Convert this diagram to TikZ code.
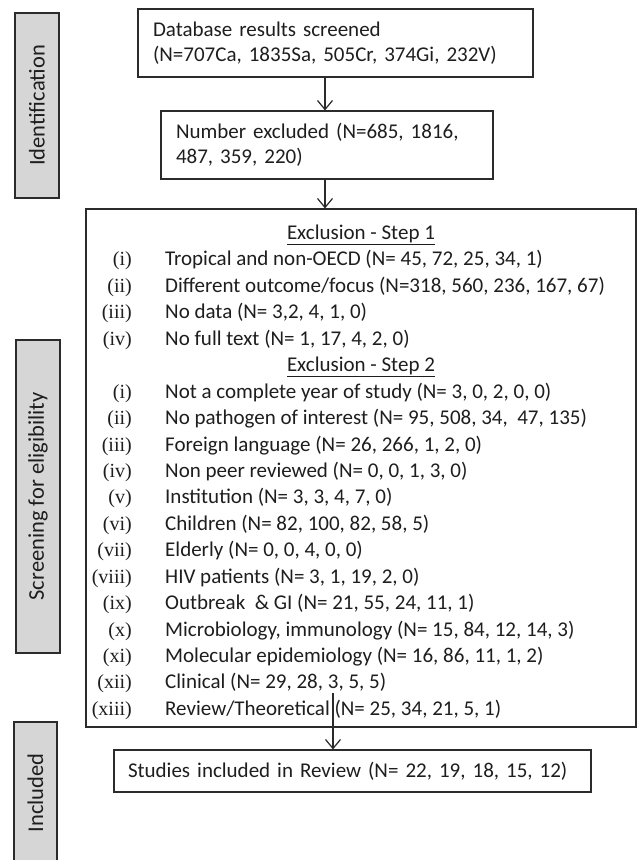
\documentclass[tikz,border=0pt]{standalone}
\usepackage{fontspec}
\setmainfont{Carlito}
\newfontfamily\romfont{Liberation Serif}
\usetikzlibrary{arrows.meta}
\definecolor{edge}{HTML}{2B2B2B}
\definecolor{sidefill}{HTML}{D6D6D6}
\definecolor{ink}{HTML}{1E1E1E}
\tikzset{
  mainbox/.style={draw=edge, line width=1.2pt, inner sep=0pt, text=ink},
  sidebox/.style={draw=edge, fill=sidefill, line width=1.4pt, inner sep=0pt, rotate=90, text=ink,
                  font=\fontsize{22.5}{26}\selectfont},
  romanlbl/.style={anchor=base east, inner sep=0pt, text=ink, font=\romfont\fontsize{20}{24}\selectfont},
  itemtxt/.style={anchor=base west, inner sep=0pt, text=ink, font=\fontsize{21}{25}\selectfont},
  headtxt/.style={anchor=base, inner sep=0pt, text=ink, font=\fontsize{21}{25}\selectfont},
  flow/.style={draw=edge, line width=1.2pt, -{Straight Barb[length=9pt,width=15pt,line width=1.2pt]}},
}
\newcommand\exline[3]{%
  \node[romanlbl] (r#1) at (132,{-(239.5+26.44*#1)}) {(#2)};
  \node[itemtxt] (t#1) at (165,{-(239.5+26.44*#1)}) {#3};}
\newcommand\exhead[2]{%
  \node[headtxt] (h#1) at (361,{-(239.5+26.44*#1)}) {\underline{#2}};}
\begin{document}
\begin{tikzpicture}[x=1pt,y=1pt]
\useasboundingbox (0,0) rectangle (637,-860);
\fill[white] (0,0) rectangle (637,-860);
% side labels
\node[sidebox, minimum width=185pt, minimum height=44pt] (ident) at (37,-105.5) {Identification};
\node[sidebox, minimum width=313pt, minimum height=44pt] (screen) at (38,-496.5) {Screening for eligibility};
\begin{scope}
\clip (0,0) rectangle (637,-860);
\node[sidebox, minimum width=142pt, minimum height=43pt] (incl) at (35.5,-793) {Included};
\end{scope}
% flow boxes
\node[mainbox, minimum width=395pt, minimum height=68pt, text width=365pt, align=left,
      font=\fontsize{21}{25}\selectfont] (db) at (335.5,-43)
  {Database results screened\\(N=707Ca, 1835Sa, 505Cr, 374Gi, 232V)};
\node[mainbox, minimum width=332pt, minimum height=68pt, text width=302pt, align=left,
      font=\fontsize{21}{25}\selectfont] (num) at (327,-145)
  {Number excluded (N=685, 1816,\\487, 359, 220)};
\node[mainbox, minimum width=550pt, minimum height=518pt] (excl) at (361,-468) {};
\node[mainbox, minimum width=477pt, minimum height=42pt, text width=449pt, align=left,
      font=\fontsize{21}{25}\selectfont] (incbox) at (352.5,-771)
  {Studies included in Review (N= 22, 19, 18, 15, 12)};
% list
\exhead{0}{Exclusion - Step 1}
\exline{1}{i}{Tropical and non-OECD (N= 45, 72, 25, 34, 1)}
\exline{2}{ii}{Different outcome/focus (N=318, 560, 236, 167, 67)}
\exline{3}{iii}{No data (N= 3,2, 4, 1, 0)}
\exline{4}{iv}{No full text (N= 1, 17, 4, 2, 0)}
\exhead{5}{Exclusion - Step 2}
\exline{6}{i}{Not a complete year of study (N= 3, 0, 2, 0, 0)}
\exline{7}{ii}{No pathogen of interest (N= 95, 508, 34,\ \ 47, 135)}
\exline{8}{iii}{Foreign language (N= 26, 266, 1, 2, 0)}
\exline{9}{iv}{Non peer reviewed (N= 0, 0, 1, 3, 0)}
\exline{10}{v}{Institution (N= 3, 3, 4, 7, 0)}
\exline{11}{vi}{Children (N= 82, 100, 82, 58, 5)}
\exline{12}{vii}{Elderly (N= 0, 0, 4, 0, 0)}
\exline{13}{viii}{HIV patients (N= 3, 1, 19, 2, 0)}
\exline{14}{ix}{Outbreak\ \ \& GI (N= 21, 55, 24, 11, 1)}
\exline{15}{x}{Microbiology, immunology (N= 15, 84, 12, 14, 3)}
\exline{16}{xi}{Molecular epidemiology (N= 16, 86, 11, 1, 2)}
\exline{17}{xii}{Clinical (N= 29, 28, 3, 5, 5)}
\exline{18}{xiii}{Review/Theoretical (N= 25, 34, 21, 5, 1)}
% connectors
\coordinate (ax) at (325,0);
\coordinate (bx) at (333,-693);
\draw[flow] (db.south -| ax) -- (num.north -| ax);
\draw[flow] (num.south -| ax) -- (excl.north -| ax);
\draw[flow] (bx) -- (incbox.north -| bx);
\end{tikzpicture}
\end{document}
